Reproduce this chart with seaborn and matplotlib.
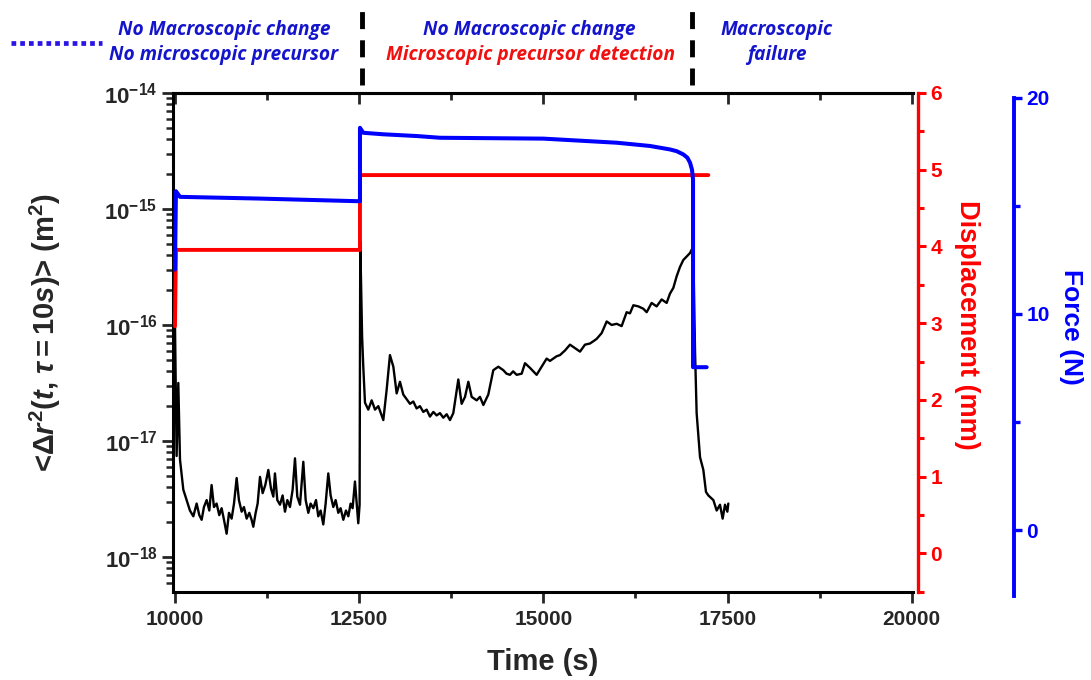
import numpy as np
import pandas as pd
import seaborn as sns
import matplotlib
matplotlib.use('Agg')
from matplotlib import pyplot as plt
from matplotlib.lines import Line2D
from matplotlib.ticker import MultipleLocator, FixedLocator, FuncFormatter, NullFormatter

# --- MSD <dr^2(t, tau=10s)>, stored as log10(m^2) ---
floor_t = [10000, 10022, 10045, 10068, 10113, 10158, 10203, 10249, 10294, 10330,
           10362, 10393, 10430, 10466, 10497, 10529, 10565, 10601, 10633, 10665,
           10701, 10733, 10769, 10801, 10837, 10868, 10905, 10936, 10973, 11009,
           11040, 11063, 11095, 11122, 11154, 11190, 11226, 11267, 11303, 11335,
           11357, 11389, 11425, 11461, 11493, 11525, 11561, 11597, 11629, 11660,
           11697, 11742, 11774, 11810, 11841, 11878, 11914, 11945, 11977, 12013,
           12045, 12081, 12113, 12149, 12181, 12217, 12248, 12285, 12321, 12353,
           12384, 12411, 12443, 12466, 12488, 12506]
floor_log = [-15.99, -17.13, -16.50, -17.16, -17.42, -17.51, -17.60, -17.65, -17.54, -17.64,
             -17.68, -17.57, -17.51, -17.60, -17.38, -17.57, -17.54, -17.64, -17.58, -17.68,
             -17.80, -17.62, -17.67, -17.54, -17.32, -17.51, -17.61, -17.57, -17.67, -17.62,
             -17.68, -17.74, -17.62, -17.54, -17.31, -17.45, -17.38, -17.25, -17.41, -17.48,
             -17.28, -17.51, -17.55, -17.47, -17.61, -17.51, -17.57, -17.42, -17.15, -17.48,
             -17.55, -17.18, -17.51, -17.62, -17.54, -17.58, -17.51, -17.65, -17.60, -17.72,
             -17.54, -17.28, -17.47, -17.57, -17.51, -17.62, -17.58, -17.68, -17.60, -17.65,
             -17.54, -17.58, -17.35, -17.54, -17.71, -17.55]

precursor_t = [12515, 12540, 12556, 12579, 12624, 12670, 12715, 12760, 12828, 12873,
               12918, 12964, 13009, 13054, 13099, 13145, 13190, 13235, 13280, 13325,
               13371, 13416, 13461, 13507, 13552, 13597, 13642, 13688, 13733, 13778,
               13846, 13891, 13937, 13982, 14027, 14095, 14140, 14186, 14253, 14321,
               14389, 14457, 14500, 14547, 14590, 14638, 14706, 14751, 14819, 14865,
               14909, 14977, 15045, 15090, 15136, 15180, 15226, 15294, 15362, 15430,
               15498, 15565, 15633, 15680, 15724, 15792, 15860, 15928, 15996, 16063,
               16131, 16176, 16222, 16290, 16357, 16403, 16470, 16538, 16606, 16674,
               16719, 16765, 16810, 16855, 16900, 16946, 16991, 17014, 17036]
precursor_log = [-15.28, -16.10, -16.36, -16.67, -16.73, -16.65, -16.73, -16.70, -16.82, -16.56,
                 -16.26, -16.36, -16.59, -16.49, -16.60, -16.64, -16.68, -16.66, -16.72, -16.70,
                 -16.75, -16.73, -16.79, -16.75, -16.78, -16.76, -16.80, -16.77, -16.82, -16.76,
                 -16.47, -16.68, -16.62, -16.49, -16.62, -16.65, -16.62, -16.69, -16.60, -16.39,
                 -16.36, -16.39, -16.42, -16.43, -16.40, -16.43, -16.42, -16.33, -16.37, -16.40,
                 -16.43, -16.36, -16.29, -16.31, -16.29, -16.27, -16.26, -16.22, -16.17, -16.20,
                 -16.23, -16.17, -16.16, -16.14, -16.12, -16.07, -15.97, -16.00, -15.99, -16.01,
                 -15.89, -15.90, -15.83, -15.84, -15.86, -15.89, -15.81, -15.84, -15.78, -15.81,
                 -15.73, -15.68, -15.58, -15.50, -15.44, -15.41, -15.38, -15.35, -15.38]

failure_t = [17059, 17081, 17127, 17172, 17208, 17240, 17308, 17353, 17398, 17434,
             17466, 17498, 17511]
failure_log = [-16.22, -16.76, -17.14, -17.25, -17.44, -17.47, -17.51, -17.60, -17.55, -17.67,
               -17.55, -17.61, -17.54]

# --- displacement (mm) ---
disp_t = [10000, 10013, 12511, 12511, 17240]
disp_mm = [2.96, 3.955, 3.955, 4.93, 4.93]

# --- force (N) ---
force_t = [10000, 10013, 10068, 11154, 12466, 12511, 12511, 12556, 12828, 13280,
           13597, 15000, 16000, 16448, 16720, 16810, 16900, 16955, 16991, 17018,
           17032, 17032, 17217]
force_n = [12.05, 15.67, 15.41, 15.33, 15.21, 15.21, 18.60, 18.37, 18.30, 18.22,
           18.14, 18.10, 17.91, 17.76, 17.60, 17.52, 17.37, 17.22, 16.99, 16.67,
           16.21, 7.54, 7.54]

phase_t = [12540, 17020]
msd_decades = [-18, -17, -16, -15, -14]

blue_txt = '#1414cc'
red_txt = '#f01010'

sns.set_style('ticks')
plt.rcParams['font.family'] = ['Liberation Sans', 'DejaVu Sans']
plt.rcParams['font.weight'] = 'bold'
plt.rcParams['mathtext.fontset'] = 'custom'
plt.rcParams['mathtext.rm'] = 'Liberation Sans:bold'
plt.rcParams['mathtext.it'] = 'Liberation Sans:bold:italic'
plt.rcParams['mathtext.bf'] = 'Liberation Sans:bold'

my_dpi = 100
W, H = 1091, 680
fig = plt.figure(figsize=(W / my_dpi, H / my_dpi), dpi=my_dpi)
L, R, T, B = 172.7, 913, 93, 591.7
ax = fig.add_axes([L / W, 1 - B / H, (R - L) / W, (B - T) / H])
ax.set_yscale('log')

msd = pd.DataFrame({'Time': floor_t + precursor_t + failure_t,
                    'MSD': 10.0 ** np.array(floor_log + precursor_log + failure_log)})
sns.lineplot(data=msd, x='Time', y='MSD', ax=ax, color='k', lw=1.7,
             sort=False, estimator=None)
ax.set_xlim(9969, 20018)
ax.set_ylim(10 ** -18.3, 1e-14)

# red displacement axis
ax2 = ax.twinx()
sns.lineplot(x=disp_t, y=disp_mm, ax=ax2, color='#ff0000', lw=2.8,
             sort=False, estimator=None)
ax2.set_ylim(-0.5, 6)

# blue force axis, shifted a few px down like the original
sh = 4.5
ax3 = fig.add_axes([L / W, 1 - (B + sh) / H, (R - L) / W, (B - T) / H], sharex=ax)
sns.lineplot(x=force_t, y=force_n, ax=ax3, color='#0000ff', lw=2.9,
             sort=False, estimator=None)
ax3.set_ylim(-3.04, 20)
ax3.patch.set_visible(False)
ax3.xaxis.set_visible(False)
ax3.yaxis.tick_right()

# spines
for s in ['left', 'bottom', 'top']:
    ax.spines[s].set_linewidth(2.2)
    ax.spines[s].set_color('k')
ax.spines['right'].set_visible(False)
for a in (ax2, ax3):
    for s in ['left', 'bottom', 'top']:
        a.spines[s].set_visible(False)
ax2.spines['right'].set_color('#ff0000')
ax2.spines['right'].set_linewidth(2.4)
ax2.spines['right'].set_position(('outward', 3.6))
ax3.spines['right'].set_color('#0000ff')
ax3.spines['right'].set_linewidth(2.8)
ax3.spines['right'].set_position(('outward', 72.7))

# ticks
ax.xaxis.set_major_locator(MultipleLocator(2500))
ax.xaxis.set_minor_locator(MultipleLocator(1250))
ax.tick_params(axis='x', which='major', direction='out', length=8, width=2,
               labelsize=15, pad=5, top=False)
ax.tick_params(axis='x', which='minor', direction='out', length=4.5, width=2, top=False)
top = ax.secondary_xaxis('top')
top.xaxis.set_major_locator(MultipleLocator(2500))
top.xaxis.set_minor_locator(MultipleLocator(1250))
top.tick_params(which='major', direction='in', length=8, width=2, labeltop=False)
top.tick_params(which='minor', direction='in', length=5, width=2)
top.spines['top'].set_linewidth(2.2)

minor_pos = [m * 10.0 ** d for d in range(-19, -14) for m in range(2, 10)]
minor_pos = [v for v in minor_pos if 10 ** -18.3 <= v <= 1e-14]
ax.yaxis.set_major_locator(FixedLocator([10.0 ** d for d in msd_decades]))
ax.yaxis.set_minor_locator(FixedLocator(minor_pos))
ax.yaxis.set_minor_formatter(NullFormatter())
ax.yaxis.set_major_formatter(FuncFormatter(lambda v, p: r'$\mathbf{10^{%d}}$' % round(np.log10(v))))
ax.tick_params(axis='y', which='major', direction='out', length=8, width=2,
               labelsize=16, pad=3)
ax.tick_params(axis='y', which='minor', direction='out', length=5, width=1.8)

ax2.yaxis.set_major_locator(MultipleLocator(1))
ax2.yaxis.set_minor_locator(MultipleLocator(0.5))
ax2.tick_params(axis='y', which='major', direction='out', length=6, width=2.2,
                colors='#ff0000', labelsize=15, pad=3)
ax2.tick_params(axis='y', which='minor', direction='out', length=4, width=2.2, color='#ff0000')

ax3.yaxis.set_major_locator(MultipleLocator(10))
ax3.yaxis.set_minor_locator(MultipleLocator(5))
ax3.tick_params(axis='y', which='major', direction='out', length=6, width=2.4,
                colors='#0000ff', labelsize=15, pad=3)
ax3.tick_params(axis='y', which='minor', direction='out', length=4, width=2.4, color='#0000ff')

for lab in ax.get_xticklabels() + ax.get_yticklabels() + ax2.get_yticklabels() + ax3.get_yticklabels():
    lab.set_fontweight('bold')

# labels
ax.set_xlabel('Time (s)', fontsize=21, fontweight='bold')
ax.xaxis.set_label_coords(0.5, -0.112)
ax.set_ylabel(r'<$\Delta r^{2}$($t$, $\tau\mathit{=10s}$)> (m$^{2}$)', fontsize=21, fontweight='bold')
ax.yaxis.set_label_coords(-0.148, 0.52)
ax2.set_ylabel('Displacement (mm)', fontsize=19.5, fontweight='bold', color='#ff0000',
               rotation=270, va='bottom')
ax2.yaxis.set_label_coords(1.055, 0.535)
ax3.set_ylabel('Force (N)', fontsize=19, fontweight='bold', color='#0000ff',
               rotation=270, va='bottom')
ax3.yaxis.set_label_coords(1.197, 0.54)

# phase separators above the frame
for t in phase_t:
    ax.axvline(t, ymin=1.016, ymax=1.166, color='k', lw=3.5, clip_on=False,
               linestyle=(0, (3.5, 2.3)))

# phase annotations
tfont = dict(family=['Open Sans', 'DejaVu Sans'], fontsize=13.8, fontweight='bold',
             fontstyle='italic', ha='center', va='center')
fig.text(224 / W, 1 - 30 / H, 'No Macroscopic change', color=blue_txt, **tfont)
fig.text(224 / W, 1 - 55 / H, 'No microscopic precursor', color=blue_txt, **tfont)
fig.text(529 / W, 1 - 30 / H, 'No Macroscopic change', color=blue_txt, **tfont)
fig.text(530 / W, 1 - 55 / H, 'Microscopic precursor detection', color=red_txt, **tfont)
fig.text(777 / W, 1 - 30 / H, 'Macroscopic', color=blue_txt, **tfont)
fig.text(777 / W, 1 - 55 / H, 'failure', color=blue_txt, **tfont)

fig.add_artist(Line2D([10.5 / W, 101.5 / W], [1 - 42.7 / H] * 2, transform=fig.transFigure,
                      color='#2a14e6', lw=3.4, linestyle=(0, (1, 0.85)),
                      dash_capstyle='butt'))

fig.savefig('out.png', dpi=my_dpi)
